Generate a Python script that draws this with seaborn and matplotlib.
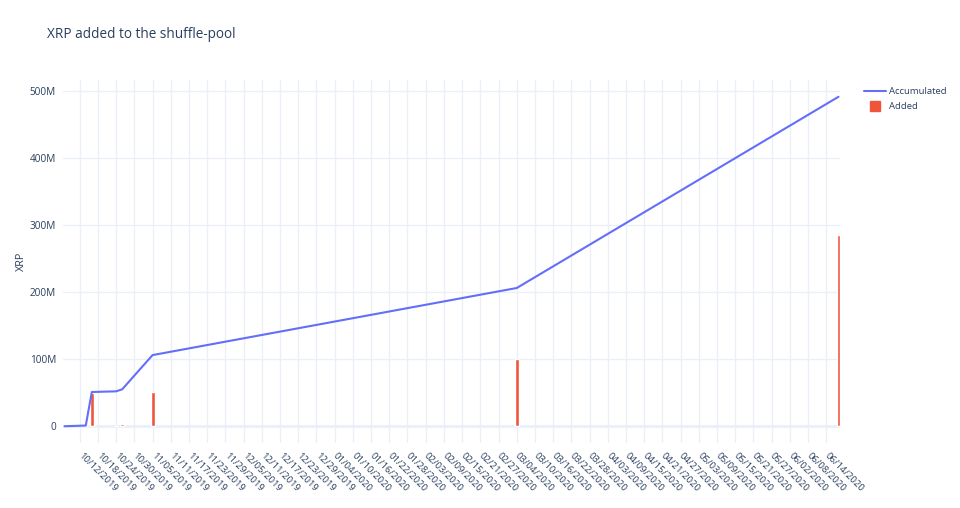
import matplotlib
matplotlib.use("Agg")
import matplotlib.pyplot as plt
import matplotlib.dates as mdates
import matplotlib.ticker as mticker
from matplotlib.lines import Line2D
import pandas as pd
import seaborn as sns

# values (millions of XRP)
dates = ["2019-10-07", "2019-10-14", "2019-10-16", "2019-10-24",
         "2019-10-26", "2019-11-05", "2020-03-04", "2020-06-18"]
accumulated = [0, 1, 51, 52, 55, 106, 206, 491]
added = [0, 1, 50, 1, 3, 51, 100, 285]

tick_start = "2019-10-12"
tick_end = "2020-06-14"
y_ticks = [0, 100, 200, 300, 400, 500]
y_labels = ["0", "100M", "200M", "300M", "400M", "500M"]

TEXT = "#2a3f5f"
GRID = "#EBF0F8"
LINE = "#636EFA"
BAR = "#EF553B"

sns.set_style("white")
plt.rcParams["font.family"] = ["Open Sans", "DejaVu Sans"]

df = pd.DataFrame({"date": pd.to_datetime(dates),
                   "Accumulated": accumulated,
                   "Added": added})

fig, ax = plt.subplots(figsize=(9.6, 5.08), dpi=100)
fig.subplots_adjust(left=63 / 960, right=840 / 960, top=1 - 80 / 508, bottom=1 - 443 / 508)

ax.axhline(0, color=GRID, lw=2, zorder=0)
ax.bar(df["date"], df["Added"], width=1.3, color=BAR, zorder=2)
sns.lineplot(data=df, x="date", y="Accumulated", color=LINE, lw=1.5, ax=ax, zorder=3)

ax.set_xlim(pd.Timestamp("2019-10-06 12:00"), pd.Timestamp("2020-06-18 12:00"))
ax.set_ylim(-25, 516)

ticks = pd.date_range(tick_start, tick_end, freq="6D")
ax.set_xticks(ticks)
ax.xaxis.set_major_formatter(mdates.DateFormatter("%m/%d/%Y"))
for lbl in ax.get_xticklabels():
    lbl.set_rotation(-45)
    lbl.set_ha("left")
    lbl.set_va("center")
    lbl.set_rotation_mode("anchor")

ax.yaxis.set_major_locator(mticker.FixedLocator(y_ticks))
ax.set_yticklabels(y_labels)

ax.grid(True, color=GRID, lw=1)
ax.set_axisbelow(True)
for s in ax.spines.values():
    s.set_visible(False)
ax.tick_params(axis="x", length=0, labelsize=6.8, colors=TEXT, pad=8)
ax.tick_params(axis="y", length=0, labelsize=7.2, colors=TEXT, pad=5)

ax.set_xlabel("")
ax.set_ylabel("XRP", fontsize=7.8, color=TEXT, labelpad=2)

fig.text(47 / 960, 1 - 35 / 508, "XRP added to the shuffle-pool",
         fontsize=9.8, color=TEXT, va="center", ha="left")

handles = [Line2D([0], [0], color=LINE, lw=1.5),
           Line2D([0], [0], color=BAR, marker="s", markersize=7, linestyle="none")]
fig.legend(handles, ["Accumulated", "Added"], loc="upper left",
           bbox_to_anchor=(855 / 960, 1 - 79 / 508), frameon=False,
           fontsize=6.8, labelcolor=TEXT, handlelength=2.4,
           handletextpad=0.3, labelspacing=0.6)

fig.savefig("out.png", dpi=100)
